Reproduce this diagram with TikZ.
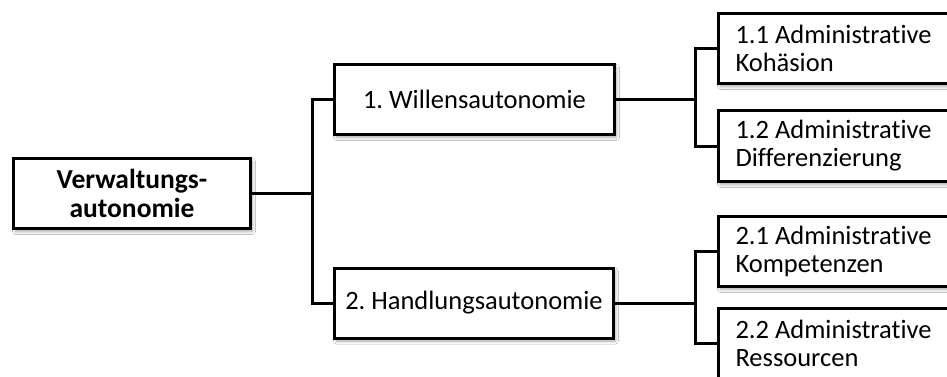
\documentclass[tikz,border=0pt]{standalone}
\usepackage{fontspec}
\setmainfont{Carlito}[Ligatures=NoCommon]
\usetikzlibrary{shadows.blur}
\frenchspacing

\begin{document}
\begin{tikzpicture}[x=1pt, y=-1pt, line width=3pt,
  box/.style={draw, fill=white, line width=3pt, inner sep=0pt, outer sep=0pt,
    font=\fontsize{26.5}{28}\selectfont,
    blur shadow={shadow xshift=2pt, shadow yshift=-3pt,
      shadow blur radius=3pt, shadow opacity=35}},
  midbox/.style={box, minimum height=70pt},
  leaf/.style={box, anchor=west, align=flush left, text width=230pt,
    inner xsep=17pt, minimum height=70pt},
  link/.style={draw, line width=3pt}]

  % page frame
  \useasboundingbox (0,0) rectangle (947,377);
  \clip (0,0) rectangle (947,377);
  \fill[white] (0,0) rectangle (947,377);

  % root
  \node[box, minimum width=237pt, minimum height=70pt, align=flush center,
        font=\bfseries\fontsize{27.5}{28.5}\selectfont]
    (root) at (132,193.5) {Verwaltungs-\\autonomie};

  % second level
  \node[midbox, minimum width=280pt] (will) at (474.5,99.5) {1. Willensautonomie};
  \node[midbox, minimum width=279pt] (hand) at (474,303) {2. Handlungsautonomie};

  % third level
  \node[leaf] (b11) at (718.5,48.5) {1.1 Administrative\\Kohäsion};
  \node[leaf, minimum height=71pt] (b12) at (718.5,146) {1.2 Administrative\\Differenzierung};
  \node[leaf] (b21) at (718.5,251.5) {2.1 Administrative\\Kompetenzen};
  \node[leaf] (b22) at (718.5,343) {2.2 Administrative\\Ressourcen};

  % bus coordinates
  \coordinate (lbus) at (312,193.5);
  \coordinate (rbw) at (695,99.5);
  \coordinate (rbh) at (695,303);

  % connectors
  \path[link] (root.east) -- (lbus);
  \path[link] (will.west) -| (lbus) |- (hand.west);
  \path[link] (will.east) -- (rbw);
  \path[link] (b11.west) -| (rbw) |- (b12.west);
  \path[link] (hand.east) -- (rbh);
  \path[link] (b21.west) -| (rbh) |- (b22.west);
\end{tikzpicture}
\end{document}
